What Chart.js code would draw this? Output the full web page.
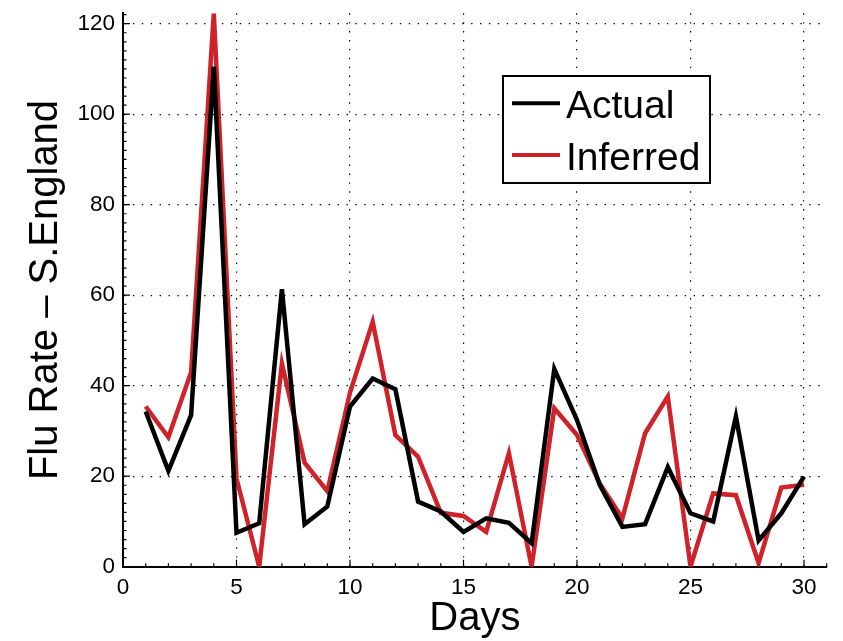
<!DOCTYPE html>
<html>
<head>
<meta charset="utf-8">
<script src="https://cdn.jsdelivr.net/npm/chart.js@4"></script>
<style>
  html, body { margin: 0; padding: 0; background: #fff; }
  #flu-chart { display: block; }
</style>
</head>
<body>
<canvas id="flu-chart" width="843" height="641"></canvas>
<script>
/* Flu rate – Actual vs Inferred, S.England (30 dager) */

const days = [1, 2, 3, 4, 5, 6, 7, 8, 9, 10, 11, 12, 13, 14, 15,
              16, 17, 18, 19, 20, 21, 22, 23, 24, 25, 26, 27, 28, 29, 30];

const actualValues = [34.3, 21.2, 33.5, 110.5, 7.5, 9.6, 61.3, 9.4, 13.3, 35.4,
                      41.6, 39.2, 14.4, 12.2, 7.7, 10.7, 9.7, 5.2, 43.7, 32.4,
                      18.1, 8.8, 9.4, 22.0, 11.8, 10.0, 33.2, 5.8, 11.8, 19.9];

const inferredValues = [35.4, 28.6, 43.0, 122.3, 19.5, 0, 44.9, 23.0, 16.7, 38.5,
                        54.1, 29.1, 24.3, 11.9, 11.2, 7.7, 25.1, 0, 35.0, 29.1,
                        18.4, 10.7, 29.5, 37.6, 0, 16.2, 15.8, 0.8, 17.5, 18.1];

const seriesLabels = ["Actual", "Inferred"];
const xTitle = "Days";
const yTitle = "Flu Rate \u2013 S.England";

const FONT = "'Liberation Sans', Arial, Helvetica, sans-serif";

// bygg punktlister fra arrayene
const toPoints = vals => vals.map((v, i) => ({ x: days[i], y: v }));

// små tick-merker innover (major + minor), slik MATLAB tegner dem
const axisTicks = {
    id: "axisTicks",
    beforeDatasetsDraw(chart) {
        const { ctx, chartArea, scales: { x, y } } = chart;
        ctx.save();
        ctx.strokeStyle = "#000";
        ctx.lineWidth = 1.2;
        ctx.beginPath();
        for (let v = x.min; v <= x.max; v += 1) {
            const px = x.getPixelForValue(v);
            const len = v % 5 === 0 ? 7 : 3.5;
            ctx.moveTo(px, chartArea.bottom);
            ctx.lineTo(px, chartArea.bottom - len);
        }
        for (let v = y.min; v <= y.max; v += 2) {
            const py = y.getPixelForValue(v);
            const len = v % 20 === 0 ? 7 : 3.5;
            ctx.moveTo(chartArea.left, py);
            ctx.lineTo(chartArea.left + len, py);
        }
        ctx.stroke();
        ctx.restore();
    }
};

// legend-boks inne i plottet
const boxLegend = {
    id: "boxLegend",
    afterDraw(chart) {
        const { ctx } = chart;
        const x0 = 503, y0 = 76, w = 207, h = 107;
        ctx.save();
        ctx.fillStyle = "#fff";
        ctx.fillRect(x0, y0, w, h);
        ctx.strokeStyle = "#000";
        ctx.lineWidth = 2;
        ctx.strokeRect(x0, y0, w, h);

        const rows = [103.3, 155];
        const baselines = [118.3, 170];
        chart.data.datasets.forEach((ds, i) => {
            ctx.strokeStyle = ds.borderColor;
            ctx.lineWidth = 4;
            ctx.beginPath();
            ctx.moveTo(512, rows[i]);
            ctx.lineTo(560, rows[i]);
            ctx.stroke();
            ctx.fillStyle = "#000";
            ctx.font = "39px " + FONT;
            ctx.textBaseline = "alphabetic";
            ctx.textAlign = "left";
            ctx.fillText(ds.label, 566, baselines[i]);
        });
        ctx.restore();
    }
};

new Chart(document.getElementById("flu-chart"), {
    type: "line",
    data: {
        datasets: [
            {
                label: seriesLabels[0],
                data: toPoints(actualValues),
                borderColor: "#000000",
                borderWidth: 4.5,
                pointRadius: 0,
                tension: 0
            },
            {
                label: seriesLabels[1],
                data: toPoints(inferredValues),
                borderColor: "#cf2229",
                borderWidth: 4.5,
                pointRadius: 0,
                tension: 0
            }
        ]
    },
    options: {
        responsive: false,
        animation: false,
        devicePixelRatio: 1,
        layout: { padding: { left: 0, right: 16.3, top: 13.3, bottom: 0 } },
        plugins: {
            legend: { display: false },
            tooltip: { enabled: false }
        },
        scales: {
            x: {
                type: "linear",
                min: 0,
                max: 31,
                afterFit: s => {
                    s.height = 74.3;
                    s.paddingLeft = 0; s.paddingRight = 0;
                },
                ticks: {
                    stepSize: 5,
                    includeBounds: false,
                    padding: 8,
                    color: "#000",
                    font: { family: FONT, size: 22.5 }
                },
                grid: { color: "#000", lineWidth: 1.2, drawTicks: false },
                border: { display: true, color: "#000", width: 2, dash: [1.4, 7.5] },
                title: {
                    display: true,
                    text: xTitle,
                    color: "#000",
                    font: { family: FONT, size: 40 },
                    padding: { top: 0, bottom: -2 }
                }
            },
            y: {
                min: 0,
                max: 122.3,
                afterFit: s => {
                    s.width = 123;
                    s.paddingTop = 0; s.paddingBottom = 0;
                },
                ticks: {
                    stepSize: 20,
                    includeBounds: false,
                    padding: 8,
                    color: "#000",
                    font: { family: FONT, size: 22.5 }
                },
                grid: { color: "#000", lineWidth: 1.2, drawTicks: false },
                border: { display: true, color: "#000", width: 2, dash: [1.4, 7.5] },
                title: {
                    display: true,
                    text: yTitle,
                    color: "#000",
                    font: { family: FONT, size: 40 },
                    padding: { top: 21.5, bottom: 0 }
                }
            }
        }
    },
    plugins: [axisTicks, boxLegend]
});
</script>
</body>
</html>
